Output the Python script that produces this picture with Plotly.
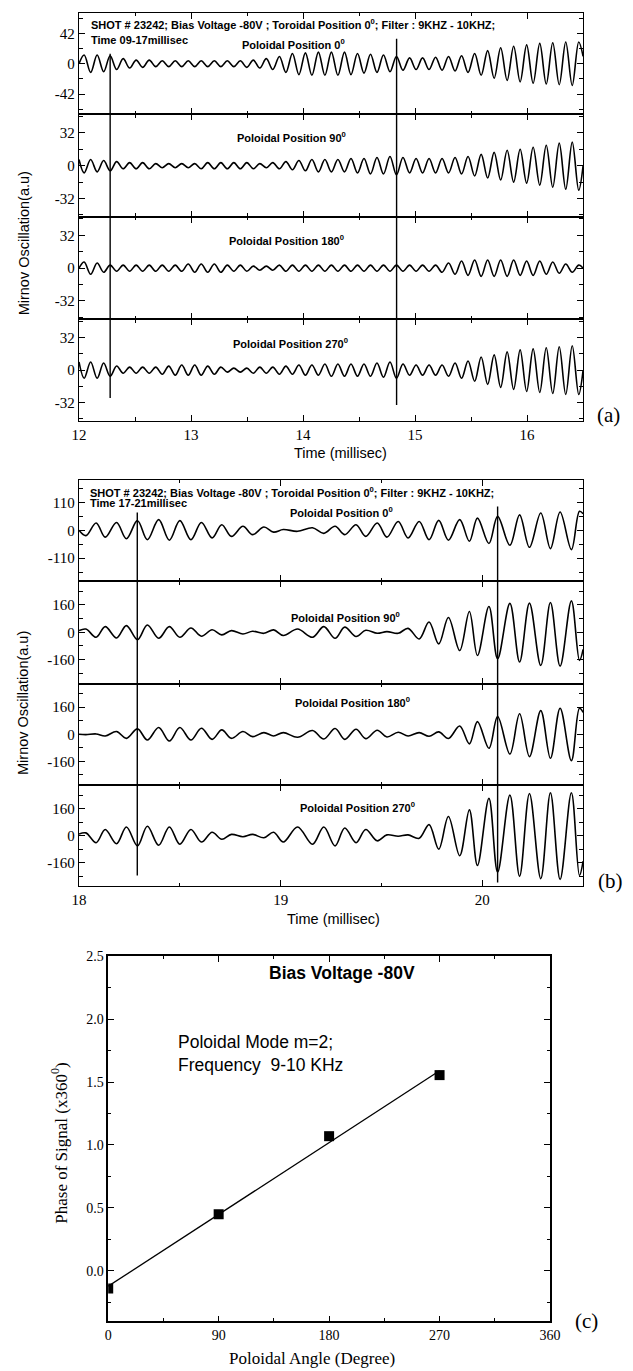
import numpy as np
import plotly.graph_objects as go

W, H = 633, 1371


def px(x):
    return x / W


def py(y):
    return 1 - y / H


# ------------------------------------------------------------------ data
# Panel (a): Mirnov signals, 12 - 16.5 ms (extrema)
a_time = [12.0,
          12.046, 12.104, 12.162, 12.220, 12.278, 12.336, 12.394, 12.452, 12.510, 12.568,
          12.627, 12.685, 12.743, 12.801, 12.859, 12.917, 12.975, 13.033, 13.091, 13.149,
          13.208, 13.266, 13.324, 13.382, 13.440, 13.498, 13.556, 13.614, 13.672, 13.730,
          13.789, 13.847, 13.905, 13.963, 14.021, 14.079, 14.137, 14.195, 14.253, 14.311,
          14.370, 14.428, 14.486, 14.544, 14.602, 14.660, 14.718, 14.776, 14.834, 14.892,
          14.951, 15.009, 15.067, 15.125, 15.183, 15.241, 15.299, 15.357, 15.415, 15.473,
          15.532, 15.590, 15.648, 15.706, 15.764, 15.822, 15.880, 15.938, 15.996, 16.054,
          16.113, 16.171, 16.229, 16.287, 16.345, 16.403, 16.461,
          16.5]
a_pos0 = [0,
          12, -12, 12, -11, 11, -8, 7, -6, 5, -5,
          5, -4, 4, -4, 4, -4, 4, -4, 4, -4,
          4, -4, 4, -4, 4, -5, 5, -6, 7, -8,
          10, -12, 14, -15, 15, -16, 16, -16, 16, -16,
          16, -15, 14, -13, 13, -12, 12, -11, 10, -9,
          8, -8, 8, -8, 9, -9, 10, -10, 11, -12,
          14, -16, 18, -20, 22, -23, 24, -25, 26, -27,
          28, -28, 29, -29, 30, -30, 30,
          10]
a_pos90 = [6,
           -7, 6, -6, 5, -5, 4, -3, 3, -3, 3,
           -3, 2, -2, 2, -2, 2, -2, 2, -3, 3,
           -3, 3, -3, 3, -3, 3, -3, 2, -2, 3,
           -3, 4, -4, 5, -5, 6, -6, 6, -6, 6,
           -6, 7, -7, 7, -8, 8, -8, 9, -9, 8,
           -7, 7, -7, 7, -7, 7, -7, 8, -8, 9,
           -10, 11, -12, 13, -14, 15, -16, 16, -17, 18,
           -19, 20, -21, 22, -23, 23, -24,
           0]
a_pos180 = [0,
            6, -6, 5, -4, 3, -3, 3, -3, 3, -3,
            3, -3, 3, -3, 3, -3, 4, -4, 4, -4,
            4, -4, 3, -3, 3, -3, 2, -2, 2, -2,
            3, -3, 3, -3, 3, -3, 3, -3, 3, -3,
            3, -3, 3, -3, 3, -3, 3, -3, 3, -3,
            3, -3, 3, -3, 3, -4, 5, -6, 7, -7,
            8, -8, 8, -8, 8, -8, 8, -7, 7, -7,
            7, -6, 6, -5, 4, -4, 3,
            0]
a_pos270 = [8,
            -8, 8, -8, 7, -6, 4, -3, 3, -3, 3,
            -3, 3, -4, 4, -5, 5, -5, 5, -5, 4,
            -4, 3, -2, 2, -2, 2, -3, 3, -3, 3,
            -4, 4, -4, 5, -5, 5, -5, 6, -6, 6,
            -6, 6, -6, 6, -6, 7, -7, 8, -8, 6,
            -5, 5, -5, 5, -5, 5, -6, 7, -8, 9,
            -11, 13, -14, 15, -17, 18, -19, 20, -21, 21,
            -22, 22, -23, 23, -24, 24, -24,
            0]
a_marker_times = [12.278, 14.835]
a_xticks = [12, 13, 14, 15, 16]
a_yticks = [[-42, 0, 42], [-32, 0, 32], [-32, 0, 32], [-32, 0, 32]]

# Panel (b): Mirnov signals, 18 - 20.5 ms
b_time = [18.0,
          18.034, 18.085, 18.130, 18.186, 18.235, 18.290, 18.339, 18.395, 18.448, 18.500,
          18.555, 18.607, 18.660, 18.708, 18.756, 18.813, 18.861, 18.917, 18.965, 19.013,
          19.084, 19.158, 19.214, 19.270, 19.318, 19.374, 19.422, 19.479, 19.527, 19.583,
          19.632, 19.687, 19.736, 19.784, 19.832, 19.888, 19.936, 19.976, 20.033, 20.076,
          20.137, 20.185, 20.234, 20.290, 20.338, 20.386, 20.442, 20.482,
          20.5]
b_pos0 = [0,
          -21, 29, -27, 31, -33, 38, -37, 42, -39, 38,
          -37, 31, -30, 22, -24, 16, -17, 13, -7, 3,
          -4, 10, -12, 16, -17, 22, -24, 29, -27, 35,
          -30, 35, -37, 39, -39, 42, -43, 48, -52, 55,
          -59, 61, -67, 68, -72, 72, -76, 75,
          65]
b_pos90 = [10,
           19, -29, 33, -33, 39, -43, 43, -35, 33, -29,
           25, -23, 15, -15, 10, -10, 6, -6, 14, -19,
           19, -29, 33, -35, 30, -25, 12, -6, 4, -6,
           23, -39, 60, -68, 87, -107, 122, -136, 151, -155,
           169, -174, 171, -194, 174, -198, 184, -165,
           -100]
b_pos180 = [0,
            -2, 2, -10, 16, -24, 32, -34, 40, -40, 40,
            -34, 36, -30, 26, -24, 16, -14, 10, -10, 10,
            -18, 22, -28, 34, -30, 30, -26, 24, -16, 12,
            -10, 10, -12, 14, -25, 49, -57, 75, -83, 105,
            -117, 121, -132, 140, -142, 154, -156, 154,
            130]
b_pos270 = [10,
            17, -41, 37, -47, 52, -60, 56, -56, 52, -50,
            37, -37, 21, -21, 8, -6, 8, -12, 21, -37,
            52, -50, 52, -60, 46, -41, 37, -30, 5, -3,
            5, -15, 66, -79, 114, -118, 153, -176, 221, -215,
            240, -240, 250, -254, 254, -258, 254, -235,
            -150]
b_marker_times = [18.289, 20.076]
b_xticks = [18, 19, 20]
b_yticks = [[-110, 0, 110], [-160, 0, 160], [-160, 0, 160], [-160, 0, 160]]

# Panel (c): phase of signal vs poloidal angle
c_angle = [0, 90, 180, 270]
c_phase = [-0.14, 0.45, 1.07, 1.555]
c_xticks = [0, 90, 180, 270, 360]
c_yticks = [0.0, 0.5, 1.0, 1.5, 2.0, 2.5]

# ------------------------------------------------------------------ style
SERIF = "Liberation Serif, Times New Roman, serif"
SANS = "Liberation Sans, Arial, sans-serif"
BLACK = "black"


def fmt(v):
    return "%g" % v


def axis_base(tick_size=15, lw=1.5):
    return dict(showline=True, linecolor=BLACK, linewidth=lw, mirror="ticks",
                ticks="inside", ticklen=6, tickwidth=1.3, tickcolor=BLACK,
                showgrid=False, zeroline=False,
                tickfont=dict(family=SERIF, size=tick_size, color=BLACK))


layout = dict(width=W, height=H, margin=dict(l=0, r=0, t=0, b=0),
              paper_bgcolor="white", plot_bgcolor="white", showlegend=False)

fig = go.Figure()

# stacked subplots: (top px, bottom px)
a_rows = [(6, 108), (108, 211), (211, 314), (314, 416)]
b_rows = [(475, 577), (577, 680), (680, 782), (782, 884)]
a_ranges = [[-70, 70], [-50, 50], [-50, 50], [-50, 50]]
b_ranges = [[-200, 200], [-300, 300], [-300, 300], [-300, 300]]
a_series = [a_pos0, a_pos90, a_pos180, a_pos270]
b_series = [b_pos0, b_pos90, b_pos180, b_pos270]

X0, X1 = 74, 592


def add_stack(start_idx, rows, ranges, yticks, series, times, xrange, xticks):
    for j in range(4):
        i = start_idx + j
        xname = "xaxis" if i == 1 else "xaxis%d" % i
        yname = "yaxis" if i == 1 else "yaxis%d" % i
        xref = "x" if i == 1 else "x%d" % i
        yref = "y" if i == 1 else "y%d" % i
        xa = axis_base(lw=1.0)
        xa.update(domain=[px(X0), px(X1)], range=xrange, anchor=yref,
                  tickmode="array", tickvals=xticks, ticktext=[fmt(v) for v in xticks],
                  showticklabels=(j == 3),
                  minor=dict(ticks="inside", ticklen=3.5, tickwidth=1.2, tickcolor=BLACK,
                             tick0=xrange[0], dtick=0.5, showgrid=False))
        ya = axis_base(lw=1.4)
        ticks = yticks[j]
        ya.update(domain=[py(rows[j][1]), py(rows[j][0])], range=ranges[j], anchor=xref,
                  tickmode="array", tickvals=ticks, ticktext=[fmt(v) for v in ticks],
                  minor=dict(ticks="inside", ticklen=3.5, tickwidth=1.2, tickcolor=BLACK,
                             tick0=0, dtick=ticks[2] / 2, showgrid=False))
        layout[xname] = xa
        layout[yname] = ya
        fig.add_trace(go.Scatter(x=times, y=series[j], xaxis=xref, yaxis=yref,
                                 mode="lines", hoverinfo="skip",
                                 line=dict(color=BLACK, width=1.6, shape="spline",
                                           smoothing=1.0)))


add_stack(1, a_rows, a_ranges, a_yticks, a_series, a_time, [12, 16.5], a_xticks)
add_stack(5, b_rows, b_ranges, b_yticks, b_series, b_time, [18, 20.5], b_xticks)

# panel (c)
xa = axis_base(14)
xa.update(domain=[px(104), px(558)], range=[0, 360], anchor="y9",
          tickmode="array", tickvals=c_xticks, ticktext=[fmt(v) for v in c_xticks],
          minor=dict(ticks="inside", ticklen=3.5, tickwidth=1.2, tickcolor=BLACK,
                     tick0=0, dtick=45, showgrid=False))
ya = axis_base(14)
ya.update(domain=[py(1321), py(954)], range=[-0.4, 2.5], anchor="x9",
          tickmode="array", tickvals=c_yticks, ticktext=["%.1f" % v for v in c_yticks],
          minor=dict(ticks="inside", ticklen=3.5, tickwidth=1.2, tickcolor=BLACK,
                     tick0=0, dtick=0.25, showgrid=False))
layout["xaxis9"] = xa
layout["yaxis9"] = ya

coef = np.polyfit(c_angle, c_phase, 1)
fit_x = [c_angle[0], c_angle[-1]]
fit_y = [float(np.polyval(coef, v)) for v in fit_x]
fig.add_trace(go.Scatter(x=fit_x, y=fit_y, xaxis="x9", yaxis="y9", mode="lines",
                         line=dict(color=BLACK, width=1.3), hoverinfo="skip"))
fig.add_trace(go.Scatter(x=c_angle, y=c_phase, xaxis="x9", yaxis="y9", mode="markers",
                         marker=dict(symbol="square", size=10, color=BLACK), hoverinfo="skip"))

# marker lines
shapes = []
for t, (y0, y1) in zip(a_marker_times, [(47, 393), (32, 400)]):
    shapes.append(dict(type="line", xref="x", yref="paper", x0=t, x1=t,
                       y0=py(y1), y1=py(y0), line=dict(color=BLACK, width=1.4)))
for t, (y0, y1) in zip(b_marker_times, [(508, 873), (502, 880)]):
    shapes.append(dict(type="line", xref="x5", yref="paper", x0=t, x1=t,
                       y0=py(y1), y1=py(y0), line=dict(color=BLACK, width=1.4)))
layout["shapes"] = shapes


def ann(text, x, y, size, family=SANS, xanchor="left", angle=0):
    return dict(text=text, x=px(x), y=py(y), xref="paper", yref="paper", showarrow=False,
                xanchor=xanchor, yanchor="middle", textangle=angle, borderpad=0,
                font=dict(family=family, size=size, color=BLACK))


HDR = "<b>SHOT # 23242; Bias Voltage -80V ; Toroidal Position 0<sup>0</sup>; Filter : 9KHZ - 10KHZ;</b>"
BS = 11
anns = [
    ann(HDR, 85, 17, BS),
    ann("<b>Time 09-17millisec</b>", 85, 33, BS),
    ann("<b>Poloidal Position 0<sup>0</sup></b>", 240, 37, BS),
    ann("<b>Poloidal Position 90<sup>0</sup></b>", 235, 131, BS),
    ann("<b>Poloidal Position 180<sup>0</sup></b>", 227, 234, BS),
    ann("<b>Poloidal Position 270<sup>0</sup></b>", 231, 338, BS),
    ann("Time (millisec)", 343, 448, 14.5, xanchor="center"),
    ann("Mirnov Oscillation(a.u)", 17, 238, 14.5, xanchor="center", angle=-90),
    ann("(a)", 618, 410, 21, family=SERIF, xanchor="center"),

    ann(HDR, 84, 487, BS),
    ann("<b>Time 17-21millisec</b>", 84, 499, BS),
    ann("<b>Poloidal Position 0<sup>0</sup></b>", 290, 508, BS),
    ann("<b>Poloidal Position 90<sup>0</sup></b>", 291, 613, BS),
    ann("<b>Poloidal Position 180<sup>0</sup></b>", 295, 699, BS),
    ann("<b>Poloidal Position 270<sup>0</sup></b>", 300, 804, BS),
    ann("Time (millisec)", 336, 917, 14.5, xanchor="center"),
    ann("Mirnov Oscillation(a.u)", 17, 700, 14.5, xanchor="center", angle=-90),
    ann("(b)", 620, 878, 21, family=SERIF, xanchor="center"),

    ann("<b>Bias Voltage -80V</b>", 344, 971, 17.5, xanchor="center"),
    ann("Poloidal Mode m=2;", 175, 1040, 17.5),
    ann("Frequency  9-10 KHz", 175, 1063, 17.5),
    ann("Poloidal Angle (Degree)", 313, 1358, 17, family=SERIF, xanchor="center"),
    ann("Phase of Signal (x360<sup>0</sup>)", 54, 1142, 17, family=SERIF,
        xanchor="center", angle=-90),
    ann("(c)", 595, 1321, 21, family=SERIF, xanchor="center"),
]
layout["annotations"] = anns

fig.update_layout(**layout)
fig.write_html("out.html")
